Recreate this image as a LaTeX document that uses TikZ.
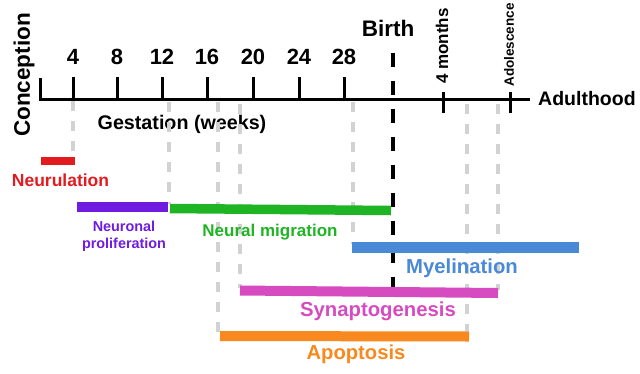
\documentclass[tikz,border=0pt]{standalone}
\usepackage{fontspec}
\setmainfont{Liberation Sans}
\newcommand\fsz[1]{\fontsize{#1}{#1}\selectfont}
\definecolor{cRed}{HTML}{E31B1E}
\definecolor{cPurple}{HTML}{6F1BE0}
\definecolor{cGreen}{HTML}{1FB424}
\definecolor{cBlue}{HTML}{4A89D6}
\definecolor{cMag}{HTML}{D74BC0}
\definecolor{cOrange}{HTML}{F7891F}
\definecolor{cGray}{HTML}{D2D2D2}
\begin{document}
\begin{tikzpicture}[x=1pt,y=-1pt,
  axisline/.style={line width=3pt},
  birthline/.style={line width=4pt, dash pattern=on 14pt off 14pt},
  guide/.style={cGray, line width=3.5pt, dash pattern=on 10pt off 10pt},
  bar/.style={line width=10pt},
  lbl/.style={font=\bfseries, inner sep=0pt},
  num/.style={lbl, font=\bfseries\fsz{22}}]
\useasboundingbox (0,0) rectangle (640,373);

% axis
\coordinate (ax0) at (40,99);
\coordinate (ax1) at (530,99);
\coordinate (axtop) at (40,78);
\draw[axisline] (axtop) -- (ax0) -- (ax1);
\foreach \x/\l in {73/4,117/8,162/12,207/16,253/20,299/24,344/28}{
  \coordinate (tk\l) at (\x,77);
  \coordinate (tb\l) at (\x,99);
  \draw[axisline] (tk\l) -- (tb\l);
  \node[num] (n\l) at (\x,57) {\l};
}
\coordinate (m4a) at (443,92); \coordinate (m4b) at (443,113);
\draw[axisline] (m4a) -- (m4b);
\coordinate (ada) at (510,92); \coordinate (adb) at (510,113);
\draw[axisline] (ada) -- (adb);

% labels on the axis
\node[lbl, font=\bfseries\fsz{22.5}, rotate=90] (conc) at (24,75) {Conception};
\node[lbl, font=\bfseries\fsz{22.5}] (birth) at (388,28) {Birth};
\node[lbl, font=\bfseries\fsz{17}, rotate=90] (months) at (442,46) {4 months};
\node[lbl, font=\bfseries\fsz{13.5}, rotate=90] (adol) at (509,45) {Adolescence};
\node[lbl, font=\bfseries\fsz{19.5}, anchor=west] (adult) at (538,99) {Adulthood};
\node[lbl, font=\bfseries\fsz{19.7}] (gest) at (182,124) {Gestation (weeks)};

% guide lines
\coordinate (g1a) at (73,101);  \coordinate (g1b) at (73,154);
\coordinate (g2a) at (169,102); \coordinate (g2b) at (169,204);
\coordinate (g3a) at (218,102); \coordinate (g3b) at (218,333);
\coordinate (g4a) at (240,104); \coordinate (g4b) at (240,288);
\coordinate (g5a) at (353,102); \coordinate (g5b) at (353,244);
\coordinate (g6a) at (467,104); \coordinate (g6b) at (467,333);
\coordinate (g7a) at (498,104); \coordinate (g7b) at (498,290);
\foreach \g in {1,...,7}{\draw[guide] (g\g a) -- (g\g b);}

% birth line
\coordinate (ba) at (393,53); \coordinate (bb) at (393,288);
\draw[birthline] (ba) -- (bb);

% bars
\coordinate (r0) at (41,161);   \coordinate (r1) at (75,161);
\coordinate (p0) at (77,207);   \coordinate (p1) at (168,207);
\coordinate (gr0) at (170,208.5); \coordinate (gr1) at (391,210.5);
\coordinate (b0) at (352,247.5); \coordinate (b1) at (579,247.5);
\coordinate (s0) at (240,290.5); \coordinate (s1) at (498,293);
\coordinate (o0) at (220,336);  \coordinate (o1) at (469,336.5);
\draw[bar, cRed, line width=8.5pt] (r0) -- (r1);
\draw[bar, cPurple] (p0) -- (p1);
\draw[bar, cGreen, line width=9.5pt] (gr0) -- (gr1);
\draw[bar, cBlue, line width=11pt] (b0) -- (b1);
\draw[bar, cMag] (s0) -- (s1);
\draw[bar, cOrange] (o0) -- (o1);

% bar labels
\node[lbl, font=\bfseries\fsz{17.5}, text=cRed] (lneu) at (60.5,180) {Neurulation};
\node[lbl, font=\bfseries\fontsize{14.4}{17}\selectfont, text=cPurple, align=center] (lpro) at (124,236) {Neuronal\\proliferation};
\node[lbl, font=\bfseries\fsz{17}, text=cGreen] (lmig) at (270,232) {Neural migration};
\node[lbl, font=\bfseries\fsz{20.3}, text=cBlue] (lmye) at (462,268) {Myelination};
\node[lbl, font=\bfseries\fsz{20.3}, text=cMag] (lsyn) at (378,311) {Synaptogenesis};
\node[lbl, font=\bfseries\fsz{20.2}, text=cOrange] (lapo) at (356,354) {Apoptosis};
\end{tikzpicture}
\end{document}
